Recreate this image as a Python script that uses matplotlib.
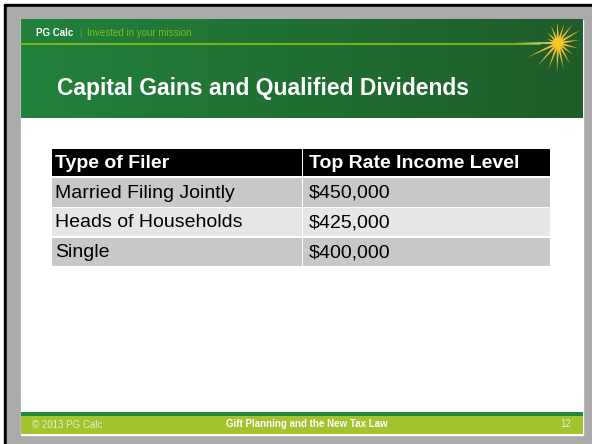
import numpy as np
import matplotlib.pyplot as plt
from matplotlib.patches import Rectangle, Polygon

# slide content
brand = "PG Calc"
tagline = "Invested in your mission"
title = "Capital Gains and Qualified Dividends"
col_headers = ["Type of Filer", "Top Rate Income Level"]
filers = ["Married Filing Jointly", "Heads of Households", "Single"]
income_levels = ["$450,000", "$425,000", "$400,000"]
footer_left = "\u00a9 2013 PG Calc"
footer_mid = "Gift Planning and the New Tax Law"
page_no = "12"

plt.rcParams["font.family"] = ["Liberation Sans", "DejaVu Sans"]

fig = plt.figure(figsize=(5.92, 4.44), dpi=100)
ax = fig.add_axes([0, 0, 1, 1])

# page frame
ax.add_patch(Rectangle((0, 0), 592, 444, color="white", zorder=0))
ax.add_patch(Rectangle((4, 4), 588, 440, color="black", zorder=0))
ax.add_patch(Rectangle((7, 7), 585, 437, color="#aaaaaa", zorder=0))
ax.add_patch(Rectangle((21, 20), 562, 415, color="white", zorder=1))

# header with left-to-right gradient
grad = np.linspace(0, 1, 256).reshape(1, -1)
left = np.array([0x22, 0x82, 0x3b]) / 255
right = np.array([0x1f, 0x5c, 0x2a]) / 255
img = left + (right - left) * grad[..., None]
ax.imshow(img, extent=(21, 583, 118, 20), aspect="auto", zorder=2)
ax.set_xlim(0, 592)
ax.set_ylim(444, 0)
ax.axis("off")

ax.plot([21, 540], [44, 44], color="#8cc20f", lw=1.2, zorder=3)
ax.text(36, 33, brand, color="white", fontsize=7, fontweight="bold", va="center", zorder=4)
ax.text(79, 33, "|", color="#5fa83a", fontsize=7, va="center", zorder=4)
ax.text(87, 33, tagline, color="#7dbb1e", fontsize=7, va="center", zorder=4)
ax.text(57, 88, title, color="white", fontsize=16.5, fontweight="bold", va="center", zorder=4)

# starburst logo
cx, cy = 558, 43
ray_angles = [92, 112, 135, 160, 205, 228, 250, 268, 282, 300, 322, 345, 8, 30, 52, 72]
ray_lengths = [21, 19, 15, 12, 34, 31, 28, 30, 27, 24, 19, 21, 22, 26, 24, 20]
for ang, ln in zip(ray_angles, ray_lengths):
    a = np.deg2rad(ang)
    tip = (cx + ln * np.cos(a), cy - ln * np.sin(a))
    p = np.deg2rad(ang + 90)
    w = 1.4
    base1 = (cx + w * np.cos(p), cy - w * np.sin(p))
    base2 = (cx - w * np.cos(p), cy + w * np.sin(p))
    ax.add_patch(Polygon([base1, tip, base2], color="#f0c030", lw=0, zorder=5))
ax.add_patch(Polygon([(cx, cy - 1.0), (cx - 45, cy), (cx, cy + 1.0)], color="#f7e28a", lw=0, zorder=5))
ax.add_patch(plt.Circle((cx, cy), 4.5, color="#f5c825", zorder=6))

# table
x0, x1, x2 = 52, 302, 550
row_top = [149, 178, 208, 238]
row_bot = [176, 207, 236, 266]
row_colors = ["black", "#c8c8c8", "#e6e6e6", "#c8c8c8"]
rows = [col_headers] + [list(r) for r in zip(filers, income_levels)]
for i, (cells, top, bot, fc) in enumerate(zip(rows, row_top, row_bot, row_colors)):
    ax.add_patch(Rectangle((x0, top), x1 - x0 - 0.5, bot - top, color=fc, lw=0, zorder=2))
    ax.add_patch(Rectangle((x1 + 1, top), x2 - x1 - 1, bot - top, color=fc, lw=0, zorder=2))
    yc = (top + bot) / 2 + 0.5
    weight = "bold" if i == 0 else "normal"
    tc = "white" if i == 0 else "black"
    ax.text(x0 + 3, yc, cells[0], color=tc, fontsize=14, fontweight=weight, va="center", zorder=3)
    ax.text(x1 + 7, yc, cells[1], color=tc, fontsize=14, fontweight=weight, va="center", zorder=3)

# footer
ax.add_patch(Rectangle((21, 412), 562, 4, color="#1f8a3a", lw=0, zorder=2))
ax.add_patch(Rectangle((21, 416), 562, 18, color="#a3c32f", lw=0, zorder=2))
ax.text(32, 425, footer_left, color="#e8efcf", fontsize=7, va="center", zorder=3)
ax.text(307, 424, footer_mid, color="white", fontsize=7, fontweight="bold", ha="center", va="center", zorder=3)
ax.text(571, 424, page_no, color="#eef4d8", fontsize=7, ha="right", va="center", zorder=3)

fig.savefig("out.png", dpi=100)
